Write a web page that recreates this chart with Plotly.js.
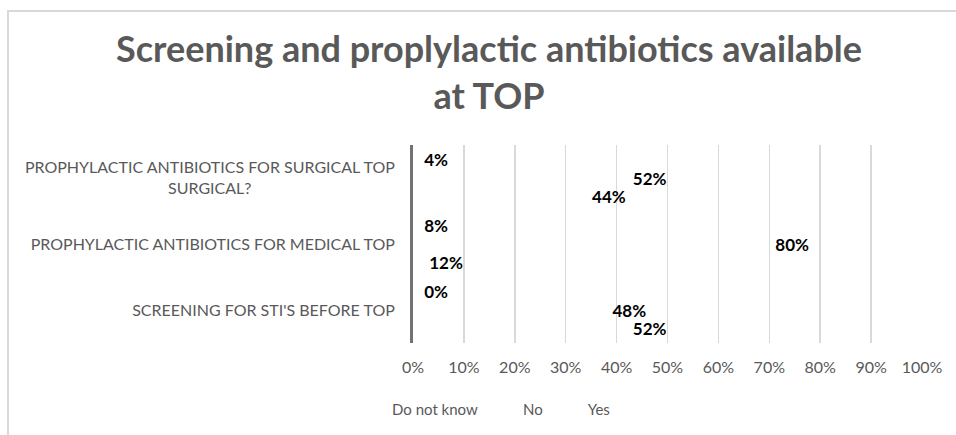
<!DOCTYPE html>
<html>
<head>
<meta charset="utf-8">
<script src="https://cdn.plot.ly/plotly-3.0.1.min.js"></script>
<style>
  html, body { margin: 0; padding: 0; background: #ffffff; overflow: hidden; }
  #chart { width: 956px; height: 435px; }
  #frame {
    position: absolute; left: 7px; top: 10px; width: 970px; height: 450px;
    border-left: 2px solid #d9d9d9; border-top: 2px solid #d9d9d9;
    pointer-events: none;
  }
</style>
</head>
<body>
<div id="chart"></div>
<div id="frame"></div>
<script>
// Categories, listed top to bottom
const categories = [
  "PROPHYLACTIC ANTIBIOTICS FOR SURGICAL TOP<br>SURGICAL?",
  "PROPHYLACTIC ANTIBIOTICS FOR MEDICAL TOP",
  "SCREENING FOR STI'S BEFORE TOP"
];

// Share of responses (%) per category
const seriesNames = ["Do not know", "No", "Yes"];
const doNotKnow = [4, 8, 0];
const no = [52, 80, 48];
const yes = [44, 12, 52];

// Percentage axis ticks
const tickValues = [0, 10, 20, 30, 40, 50, 60, 70, 80, 90, 100];
const tickLabels = ["0%", "10%", "20%", "30%", "40%", "50%", "60%", "70%", "80%", "90%", "100%"];

const FONT = "Lato, 'Open Sans', sans-serif";
const GREY = "#595959";
const NBSP = "\u00a0";
const CAT_SIZE = 16;
const VALUE_SIZE = 17;

// Text width helper (canvas)
const ctx = document.createElement("canvas").getContext("2d");
function textWidth(str, font) { ctx.font = font; return ctx.measureText(str).width; }

// Centre the lines of a multi-line category label (tick labels are right-aligned)
function centreLines(label) {
  const font = CAT_SIZE + "px Lato";
  const lines = label.split("<br>");
  const widths = lines.map(l => textWidth(l, font));
  const maxW = Math.max(...widths);
  const sp = textWidth(NBSP, font);
  return lines.map((l, i) => l + NBSP.repeat(Math.round((maxW - widths[i]) / 2 / sp))).join("<br>");
}

// Spacer that keeps value labels a little away from the bar edge
function spacer(px) {
  const sp = textWidth(NBSP, "bold " + VALUE_SIZE + "px Lato");
  return NBSP.repeat(Math.max(1, Math.round(px / sp)));
}
const lead = spacer(10);
const trail = spacer(10);

const clear = "rgba(0,0,0,0)";
const labelFont = { family: FONT, size: VALUE_SIZE, color: "#000000", weight: "bold" };

function barTrace(name, values, template, anchor, positions) {
  return {
    type: "bar",
    orientation: "h",
    name: name,
    y: categories.map(centreLines),
    x: values,
    marker: { color: clear, line: { width: 0 } },
    texttemplate: template,
    textposition: positions,
    insidetextanchor: anchor,
    textangle: 0,
    constraintext: "none",
    textfont: labelFont,
    insidetextfont: labelFont,
    outsidetextfont: labelFont,
    cliponaxis: false,
    hoverinfo: "skip"
  };
}

const data = [
  barTrace(seriesNames[0], doNotKnow, lead + "%{x:.0f}%", "start",
           doNotKnow.map(v => v > 0 ? "inside" : "outside")),
  barTrace(seriesNames[1], no, "%{x:.0f}%" + trail, "end", no.map(() => "inside")),
  barTrace(seriesNames[2], yes, "%{x:.0f}%" + trail, "end", yes.map(() => "inside"))
];

const layout = {
  width: 956,
  height: 435,
  paper_bgcolor: "#ffffff",
  plot_bgcolor: "#ffffff",
  margin: { l: 413, r: 34, t: 145, b: 92 },
  font: { family: FONT, color: GREY },
  title: {
    text: "Screening and proplylactic antibiotics available<br>at TOP",
    font: { family: FONT, size: 36, color: GREY, weight: "bold" },
    xref: "container", x: 489 / 956, xanchor: "center",
    yref: "container", y: 1 - 62 / 435, yanchor: "top"
  },
  barmode: "group",
  bargap: 0.16,
  bargroupgap: 0,
  showlegend: true,
  legend: {
    orientation: "h",
    xref: "container", x: 352 / 956, xanchor: "left",
    yref: "container", y: 1 - 393 / 435, yanchor: "top",
    font: { family: FONT, size: 15, color: GREY },
    traceorder: "normal",
    itemclick: false
  },
  xaxis: {
    range: [0, 100],
    tickmode: "array",
    tickvals: tickValues,
    ticktext: tickLabels,
    showgrid: true,
    gridcolor: "#d9d9d9",
    gridwidth: 1.5,
    zeroline: false,
    showline: false,
    ticks: "outside",
    ticklen: 10,
    tickcolor: clear,
    tickfont: { family: FONT, size: 16, color: GREY },
    fixedrange: true
  },
  yaxis: {
    type: "category",
    autorange: "reversed",
    showgrid: false,
    zeroline: false,
    showline: true,
    linecolor: "#727272",
    linewidth: 3,
    ticks: "outside",
    ticklen: 12,
    tickcolor: clear,
    tickfont: { family: FONT, size: CAT_SIZE, color: GREY },
    fixedrange: true
  }
};

Plotly.newPlot("chart", data, layout, { displayModeBar: false, staticPlot: true });
</script>
</body>
</html>
